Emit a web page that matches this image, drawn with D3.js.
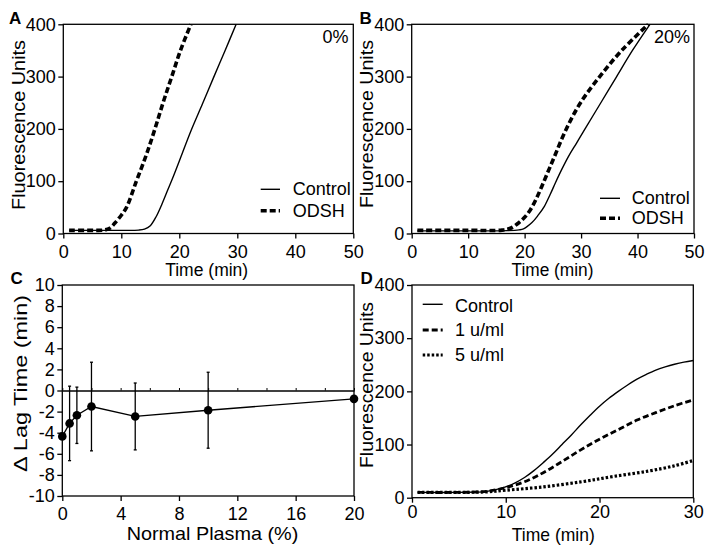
<!DOCTYPE html>
<html><head><meta charset="utf-8">
<script src="https://cdn.jsdelivr.net/npm/d3@7"></script>
<style>
body{margin:0;background:#fff}
text{font-family:"Liberation Sans",Arial,Helvetica,sans-serif;fill:#000}
</style>
</head><body>
<svg id="chart" width="714" height="555"></svg>
<script>
// ---------- DATA ----------
const fluorTicks = [0, 100, 200, 300, 400];
const time50Ticks = [0, 10, 20, 30, 40, 50];
const time30Ticks = [0, 10, 20, 30];
const plasmaTicks = [0, 4, 8, 12, 16, 20];
const lagTicks = [-10, -8, -6, -4, -2, 0, 2, 4, 6, 8, 10];

// Panel A (0% plasma): [time, fluorescence]
const aControl = [[1,6],[5,6],[10,6],[13,6.5],[14,8.5],[15,15],[16,32],[17,56],[18,83],[19,110],[20.5,153],[22,196],[24,248],[25.9,298],[27.9,350],[29.8,400]];
const aODSH = [[1,6],[5,6],[7,6.5],[8,10],[8.9,20],[10,35],[10.9,50],[12.6,100],[14.3,150],[15.8,200],[17.2,250],[18.7,300],[20.2,350],[22.0,400]];

// Panel B (20% plasma)
const bControl = [[1,5],[10,5],[17,5.5],[19,7],[19.8,9],[21.3,21],[22.4,35],[23.5,52],[24.5,74],[25.5,98],[26.6,123],[27.8,148],[29.2,173],[30.7,200],[33.5,250],[36.3,300],[39.1,350],[42.2,400]];
const bODSH = [[1,6],[10,6],[16,6.5],[17.5,10],[18.9,20],[20,31],[21,45],[22,65],[23,89],[24.1,117],[25.2,145],[27.3,198],[29.9,250],[33.3,300],[37.2,350],[41.9,400]];

// Panel C: normal plasma (%) vs delta lag time (min), with SD
const plasmaPct = [0, 0.5, 1, 2, 5, 10, 20];
const lagMean = [-4.35, -3.12, -2.35, -1.52, -2.46, -1.87, -0.79];
const lagErr = [0, 3.53, 2.67, 4.2, 3.17, 3.6, 0];

// Panel D
const dControl = [[0.6,10],[5,10],[8,12],[9.9,20],[11,28],[12,38],[13,51],[14,66],[15,82],[16,100],[17,118],[18,137],[19,155],[20,172],[21,187],[22,200],[23,212],[24,223],[25,232],[26,240],[27,246],[28,251],[29,255],[30,258]];
const d1u = [[0.6,10],[5,10],[8,12],[10,19],[12,30],[14,47],[16,68],[18,90],[20,110],[22,128],[24,146],[26,160],[28,173],[30,184]];
const d5u = [[0.6,10],[5,10],[8,11],[10,14],[13.8,20],[18.1,30],[21.5,40],[25.2,50],[28,60],[30,70]];

// ---------- DRAW ----------
const svg = d3.select("#chart");
const FS = 18;

function panel(o) {
  const g = svg.append("g");
  const x = d3.scaleLinear().domain(o.xd).range([o.l, o.r]);
  const y = d3.scaleLinear().domain(o.yd).range([o.b, o.t]);
  const xa = g.append("g").attr("transform", `translate(0,${o.b})`)
    .call(d3.axisBottom(x).tickValues(o.xt).tickSize(5).tickSizeOuter(0).tickPadding(o.xpad).tickFormat(d => String(d)));
  const ya = g.append("g").attr("transform", `translate(${o.l},0)`)
    .call(d3.axisLeft(y).tickValues(o.yt).tickSize(5).tickSizeOuter(0).tickPadding(2.5).tickFormat(d => String(d)));
  [xa, ya].forEach(a => {
    a.select(".domain").remove();
    a.selectAll("line").attr("stroke", "#000").attr("stroke-width", 1.3);
    a.selectAll("text").style("font-size", FS + "px").attr("fill", "#000");
  });
  g.append("rect").attr("x", o.l).attr("y", o.t).attr("width", o.r - o.l).attr("height", o.b - o.t)
    .attr("fill", "none").attr("stroke", "#000").attr("stroke-width", 1.3);
  const id = "clip" + o.name;
  svg.append("clipPath").attr("id", id).append("rect")
    .attr("x", o.l).attr("y", o.t - 1).attr("width", o.r - o.l).attr("height", o.b - o.t + 1);
  svg.append("text").attr("x", o.lx).attr("y", o.ly).text(o.name)
    .style("font-size", "17px").style("font-weight", "bold");
  svg.append("text").attr("transform", `translate(${o.ytx},${o.yty}) rotate(-90)`)
    .attr("text-anchor", "middle").style("font-size", "19px")
    .attr("textLength", o.ytl).attr("lengthAdjust", "spacingAndGlyphs").text(o.ytitle);
  svg.append("text").attr("x", o.xtx).attr("y", o.xty).attr("text-anchor", "middle")
    .style("font-size", o.xfs + "px").attr("textLength", o.xtl).attr("lengthAdjust", "spacingAndGlyphs").text(o.xtitle);
  return {g, x, y, clip: `url(#${id})`};
}

function curve(p, data, width, dash) {
  const line = d3.line().x(d => p.x(d[0])).y(d => p.y(d[1])).curve(d3.curveCatmullRom.alpha(0.5));
  p.g.append("path").datum(data).attr("d", line).attr("fill", "none")
    .attr("stroke", "#000").attr("stroke-width", width)
    .attr("stroke-dasharray", dash || null).attr("clip-path", p.clip);
}

function legendRow(x1, x2, ly, tx, ty, label, width, dash) {
  svg.append("line").attr("x1", x1).attr("x2", x2).attr("y1", ly).attr("y2", ly)
    .attr("stroke", "#000").attr("stroke-width", width).attr("stroke-dasharray", dash || null);
  svg.append("text").attr("x", tx).attr("y", ty).style("font-size", FS + "px").text(label);
}

const SOLID = 1.4, DASHW = 3.6, DASHA = "6,3";

// Panel A
const pA = panel({name:"A", l:63.3, r:353.3, t:24.3, b:233.5, xd:[0,50], yd:[0,400], xt:time50Ticks, yt:fluorTicks, xpad:6.5,
  lx:9, ly:23.5, ytx:25, yty:125, ytl:170, ytitle:"Fluorescence Units", xtx:206.7, xty:276, xtl:83, xfs:18, xtitle:"Time (min)"});
curve(pA, aControl, SOLID);
curve(pA, aODSH, DASHW, DASHA);
legendRow(260.7, 280, 189.3, 292.7, 194.5, "Control", SOLID);
legendRow(260.7, 280, 210.7, 292.7, 216.5, "ODSH", DASHW, DASHA);
svg.append("text").attr("x", 348.5).attr("y", 43.3).attr("text-anchor", "end").style("font-size", FS + "px").text("0%");

// Panel B
const pB = panel({name:"B", l:411.7, r:694, t:24.3, b:233.5, xd:[0,50], yd:[0,400], xt:time50Ticks, yt:fluorTicks, xpad:6.5,
  lx:359.5, ly:23.5, ytx:373, yty:124, ytl:168, ytitle:"Fluorescence Units", xtx:552.5, xty:276, xtl:82, xfs:18, xtitle:"Time (min)"});
curve(pB, bControl, SOLID);
curve(pB, bODSH, DASHW, DASHA);
legendRow(600, 620, 198.3, 631.7, 204, "Control", SOLID);
legendRow(600, 620, 218.3, 631.7, 224.3, "ODSH", DASHW, DASHA);
svg.append("text").attr("x", 690).attr("y", 43.3).attr("text-anchor", "end").style("font-size", FS + "px").text("20%");

// Panel C
const pC = panel({name:"C", l:62.3, r:354, t:285, b:496, xd:[0,20], yd:[-10,10], xt:plasmaTicks, yt:lagTicks, xpad:6,
  lx:10.5, ly:283.5, ytx:26.5, yty:383.5, ytl:177, ytitle:"\u0394 Lag Time (min)", xtx:212.5, xty:540, xtl:171.7, xfs:19, xtitle:"Normal Plasma (%)"});
const zeroAxis = pC.g.append("g").attr("transform", `translate(0,${pC.y(0)})`)
  .call(d3.axisTop(pC.x).tickValues(d3.range(0, 21, 2)).tickSize(2.5).tickSizeOuter(0).tickFormat(""));
zeroAxis.select(".domain").attr("stroke", "#000").attr("stroke-width", 1.3);
zeroAxis.selectAll("line").attr("stroke", "#000").attr("stroke-width", 1);
const cData = plasmaPct.map((v, i) => ({x: v, m: lagMean[i], e: lagErr[i]}));
const eb = pC.g.append("g");
cData.filter(d => d.e > 0).forEach(d => {
  eb.append("line").attr("x1", pC.x(d.x)).attr("x2", pC.x(d.x)).attr("y1", pC.y(d.m + d.e)).attr("y2", pC.y(d.m - d.e))
    .attr("stroke", "#000").attr("stroke-width", 1.3);
  [d.m + d.e, d.m - d.e].forEach(v => eb.append("line").attr("x1", pC.x(d.x) - 1.5).attr("x2", pC.x(d.x) + 1.5)
    .attr("y1", pC.y(v)).attr("y2", pC.y(v)).attr("stroke", "#000").attr("stroke-width", 1.3));
});
pC.g.append("path").datum(cData).attr("d", d3.line().x(d => pC.x(d.x)).y(d => pC.y(d.m)))
  .attr("fill", "none").attr("stroke", "#000").attr("stroke-width", 1.3);
pC.g.selectAll("circle.pt").data(cData).join("circle").attr("class", "pt")
  .attr("cx", d => pC.x(d.x)).attr("cy", d => pC.y(d.m)).attr("r", 4.3).attr("fill", "#000");

// Panel D
const pD = panel({name:"D", l:412, r:693.3, t:285, b:497.7, xd:[0,30], yd:[0,400], xt:time30Ticks, yt:fluorTicks, xpad:2.5,
  lx:360.5, ly:283.5, ytx:373, yty:385, ytl:166, ytitle:"Fluorescence Units", xtx:553.3, xty:540.5, xtl:83, xfs:19, xtitle:"Time (min)"});
curve(pD, dControl, SOLID);
curve(pD, d1u, 2.8, "6,3");
curve(pD, d5u, 3.2, "2.5,2");
legendRow(422.7, 442.7, 304.3, 455, 311.5, "Control", SOLID);
legendRow(422.7, 442.7, 330, 455, 336, "1 u/ml", 2.8, "6,3");
legendRow(422.7, 442.7, 355, 455, 360.5, "5 u/ml", 3.2, "2.5,2");
</script>
</body></html>
